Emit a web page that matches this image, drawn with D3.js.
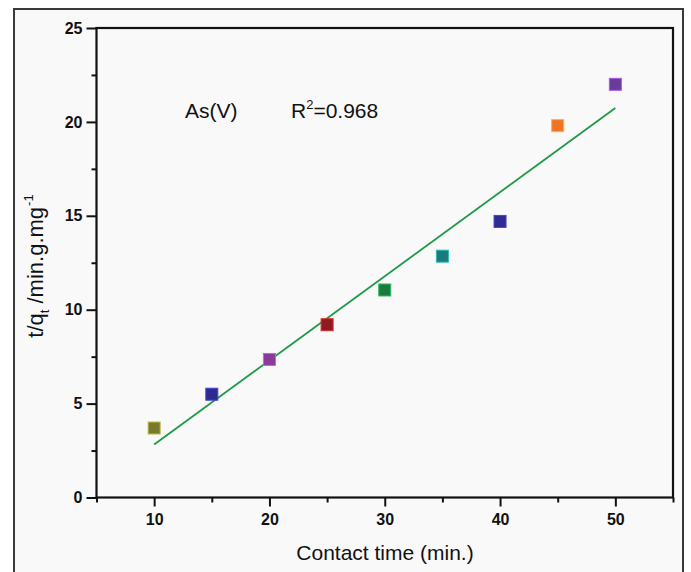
<!DOCTYPE html>
<html>
<head>
<meta charset="utf-8">
<script src="https://cdn.jsdelivr.net/npm/d3@7"></script>
<style>
  html, body { margin: 0; padding: 0; background: #ffffff; }
  svg { display: block; font-family: "Liberation Sans", Arial, sans-serif; }
</style>
</head>
<body>
<svg id="chart" width="691" height="572"></svg>
<script>
// ---- data ----
const contactTime = [10, 15, 20, 25, 30, 35, 40, 45, 50];
const tOverQt = [3.7, 5.5, 7.35, 9.2, 11.05, 12.85, 14.7, 19.8, 22.0];
const pointColors = ["#7a7a2c", "#2f2b8c", "#8b3a9c", "#8e1b1f", "#1c7a3e", "#1a7b78", "#2f2b90", "#f07224", "#6a3b9c"];
const fitX = [10, 50];
const fitY = [2.82, 20.74];
const xTicks = [10, 20, 30, 40, 50];
const xMinorTicks = [5, 15, 25, 35, 45, 55];
const yTicks = [0, 5, 10, 15, 20, 25];
const yMinorTicks = [2.5, 7.5, 12.5, 17.5, 22.5];

const svg = d3.select("#chart");

// outer figure frame
svg.append("rect").attr("x", 14).attr("y", 9).attr("width", 669).attr("height", 580)
  .attr("fill", "#f9f9f9").attr("stroke", "#3a3a3a").attr("stroke-width", 2);

const L = 96.5, R = 673, T = 28, B = 497.5;
const x = d3.scaleLinear().domain([5, 55]).range([L, R]);
const y = d3.scaleLinear().domain([0, 25]).range([B, T]);

// plot frame
svg.append("rect").attr("x", L).attr("y", T).attr("width", R - L).attr("height", B - T)
  .attr("fill", "none").attr("stroke", "#111").attr("stroke-width", 2.2);

// axes
const xAxis = d3.axisBottom(x).tickValues(xTicks).tickSize(9).tickPadding(7).tickFormat(d3.format("d"));
const xMinor = d3.axisBottom(x).tickValues(xMinorTicks).tickSize(5).tickFormat("");
const yAxis = d3.axisLeft(y).tickValues(yTicks).tickSize(10).tickPadding(4).tickFormat(d3.format("d"));
const yMinor = d3.axisLeft(y).tickValues(yMinorTicks).tickSize(5).tickFormat("");

function style(g) {
  g.attr("font-size", null).attr("font-family", null);
  g.select(".domain").remove();
  g.selectAll(".tick line").attr("stroke", "#111").attr("stroke-width", 2);
  g.selectAll(".tick text").attr("fill", "#111")
    .style("font-size", "16px").style("font-weight", "bold")
    .style("font-family", "'Liberation Sans', Arial, sans-serif");
}
svg.append("g").attr("transform", `translate(0,${B})`).call(xAxis).call(style);
svg.append("g").attr("transform", `translate(0,${B})`).call(xMinor).call(style);
svg.append("g").attr("transform", `translate(${L},0)`).call(yAxis).call(style);
svg.append("g").attr("transform", `translate(${L},0)`).call(yMinor).call(style);

// fit line
svg.append("line")
  .attr("x1", x(fitX[0])).attr("y1", y(fitY[0]))
  .attr("x2", x(fitX[1])).attr("y2", y(fitY[1]))
  .attr("stroke", "#1e9a48").attr("stroke-width", 1.8);

// points
const s = 12;
svg.append("g").selectAll("rect").data(contactTime).join("rect")
  .attr("x", (d) => x(d) - s / 2)
  .attr("y", (d, i) => y(tOverQt[i]) - s / 2)
  .attr("width", s).attr("height", s)
  .attr("fill", (d, i) => pointColors[i])
  .attr("stroke", (d, i) => d3.color(pointColors[i]).brighter(1.2))
  .attr("stroke-width", 1);

// annotations
svg.append("text").attr("x", 185).attr("y", 118).style("font-size", "21px").attr("fill", "#111").text("As(V)");
const r2 = svg.append("text").attr("x", 291).attr("y", 118).style("font-size", "21px").attr("fill", "#111");
r2.append("tspan").text("R");
r2.append("tspan").style("font-size", "13px").attr("dy", -9).text("2");
r2.append("tspan").attr("dy", 9).text("=0.968");

// axis titles
svg.append("text").attr("x", 385).attr("y", 560).attr("text-anchor", "middle")
  .style("font-size", "21px").attr("fill", "#111").text("Contact time (min.)");

const yt = svg.append("text").attr("transform", "translate(43,266) rotate(-90)")
  .attr("text-anchor", "middle").style("font-size", "22px").attr("fill", "#111");
yt.append("tspan").text("t/q");
yt.append("tspan").style("font-size", "13px").attr("dy", 6).text("t");
yt.append("tspan").attr("dy", -6).attr("dx", 6).text("/min.g.mg");
yt.append("tspan").style("font-size", "13px").attr("dy", -10).attr("dx", 1).text("-1");
</script>
</body>
</html>
